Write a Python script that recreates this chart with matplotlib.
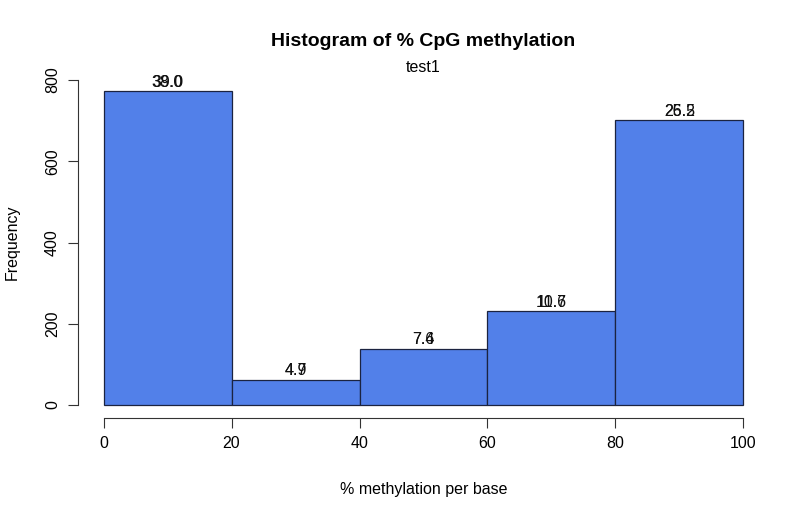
import matplotlib
matplotlib.use("Agg")
import matplotlib.pyplot as plt
import numpy as np

plt.rcParams['font.family'] = ['Liberation Sans', 'DejaVu Sans']

bin_edges = [0, 20, 40, 60, 80, 100]
counts = [773, 62, 139, 231, 701]
labels_a = ["38.0", "4.7", "7.4", "11.7", "26.5"]
labels_b = ["39.0", "4.9", "7.6", "10.6", "25.2"]
xticks = [0, 20, 40, 60, 80, 100]
yticks = [0, 200, 400, 600, 800]

W, H = 809, 516
fig = plt.figure(figsize=(W / 100, H / 100), dpi=100)
ax = fig.add_axes([78 / W, (H - 418) / H, (769 - 78) / W, (418 - 67) / H])

lefts = np.array(bin_edges[:-1])
widths = np.diff(bin_edges)
ax.bar(lefts, counts, width=widths, align='edge', color='#5280E9',
       edgecolor='#1b2340', linewidth=0.9)

for x, w, c, a, b in zip(lefts, widths, counts, labels_a, labels_b):
    for lab in (a, b):
        ax.annotate(lab, (x + w / 2, c), xytext=(0, 1), textcoords='offset points',
                    ha='center', va='bottom', fontsize=11.5, color='#111111')

ax.set_xlim(-4, 104)
ax.set_ylim(-32, 832)
for s in ('top', 'right'):
    ax.spines[s].set_visible(False)
ax.spines['left'].set_bounds(0, 800)
ax.spines['bottom'].set_bounds(0, 100)
for s in ('left', 'bottom'):
    ax.spines[s].set_color('#333333')
    ax.spines[s].set_linewidth(0.8)
ax.set_xticks(xticks)
ax.set_yticks(yticks)
ax.set_yticklabels([str(v) for v in yticks], rotation=90, va='center')
ax.tick_params(axis='both', direction='out', length=7, width=0.8, color='#333333',
               labelsize=11.5, pad=6)

ax.set_xlabel("% methylation per base", fontsize=11.5, labelpad=22)
ax.set_ylabel("Frequency", fontsize=11.5, labelpad=18)

fig.text((78 + 769) / 2 / W, 1 - 41 / H, "Histogram of % CpG methylation",
         ha='center', va='center', fontsize=14, fontweight='bold')
fig.text((78 + 769) / 2 / W, 1 - 68 / H, "test1", ha='center', va='center', fontsize=11.5)

fig.savefig("out.png", dpi=100, facecolor='white')
